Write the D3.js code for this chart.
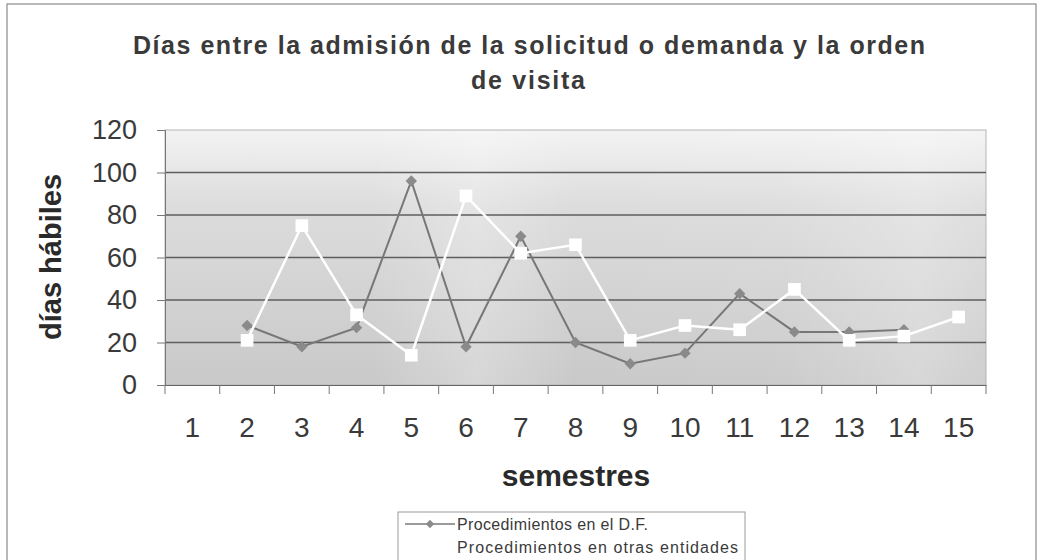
<!DOCTYPE html>
<html>
<head>
<meta charset="utf-8">
<script src="https://cdn.jsdelivr.net/npm/d3@7"></script>
<style>
  body { margin: 0; background: #fff; }
  text { font-family: "Liberation Sans", Arial, sans-serif; }
</style>
</head>
<body>
<svg width="1042" height="560"></svg>
<script>
// chart data
var semestres = [1, 2, 3, 4, 5, 6, 7, 8, 9, 10, 11, 12, 13, 14, 15]
var procDF = [null, 28, 18, 27, 96, 18, 70, 20, 10, 15, 43, 25, 25, 26, null]
var procOtras = [null, 21, 75, 33, 14, 89, 62, 66, 21, 28, 26, 45, 21, 23, 32]
var yTicks = [0, 20, 40, 60, 80, 100, 120]
var seriesNames = ['Procedimientos en el D.F.', 'Procedimientos en otras entidades']

var margin = { left: 165, right: 56, top: 130, bottom: 175 },
    width = 1042 - margin.left - margin.right,
    height = 560 - margin.top - margin.bottom;

var svg = d3.select('svg')

// outer frame
svg.append('rect')
    .attr('x', 7).attr('y', 4)
    .attr('width', 1029).attr('height', 570)
    .attr('fill', 'none')
    .attr('stroke', '#8a8a8a')
    .attr('stroke-width', 1.2)

var defs = svg.append('defs')
var gv = defs.append('linearGradient').attr('id', 'bgv')
    .attr('x1', 0).attr('y1', 0).attr('x2', 0).attr('y2', 1)
gv.append('stop').attr('offset', '0%').attr('stop-color', '#f3f3f3')
gv.append('stop').attr('offset', '30%').attr('stop-color', '#dcdcdc')
gv.append('stop').attr('offset', '100%').attr('stop-color', '#c9c9c9')

var gh = defs.append('linearGradient').attr('id', 'bgh')
gh.append('stop').attr('offset', '0%').attr('stop-color', '#fff').attr('stop-opacity', 0)
gh.append('stop').attr('offset', '25%').attr('stop-color', '#fff').attr('stop-opacity', 0.0)
gh.append('stop').attr('offset', '38%').attr('stop-color', '#fff').attr('stop-opacity', 0.25)
gh.append('stop').attr('offset', '50%').attr('stop-color', '#fff').attr('stop-opacity', 0.0)
gh.append('stop').attr('offset', '75%').attr('stop-color', '#fff').attr('stop-opacity', 0.05)
gh.append('stop').attr('offset', '92%').attr('stop-color', '#fff').attr('stop-opacity', 0.25)
gh.append('stop').attr('offset', '100%').attr('stop-color', '#fff').attr('stop-opacity', 0.1)

var chartGroup = svg.append('g')
    .attr('transform', 'translate(' + margin.left + ', ' + margin.top + ')')

var xScale = d3.scaleBand()
    .domain(semestres)
    .range([0, width])

var yScale = d3.scaleLinear()
    .domain([0, 120])
    .range([height, 0])

// plot background
chartGroup.append('rect')
    .attr('width', width).attr('height', height)
    .attr('fill', 'url(#bgv)')
chartGroup.append('rect')
    .attr('width', width).attr('height', height)
    .attr('fill', 'url(#bgh)')
chartGroup.append('rect')
    .attr('width', width).attr('height', height)
    .attr('fill', 'none')
    .attr('stroke', '#b5b5b5')

// gridlines
chartGroup.append('g')
    .selectAll('line')
    .data(yTicks.filter(d => d > 0 && d < 120))
    .join('line')
    .attr('x1', 0).attr('x2', width)
    .attr('y1', d => yScale(d)).attr('y2', d => yScale(d))
    .attr('stroke', '#5e5e5e')
    .attr('stroke-width', 1.4)

// y axis
var yAxis = d3.axisLeft(yScale).tickValues(yTicks).tickSize(8).tickPadding(20)
var yg = chartGroup.append('g').attr('class', 'y-axis').call(yAxis)
yg.select('.domain').attr('stroke', '#777')
yg.selectAll('.tick line').attr('stroke', '#777')
yg.selectAll('.tick text')
    .attr('font-size', 27)
    .attr('fill', '#3a3a3a')
    .style('font-family', '"Liberation Sans", Arial, sans-serif')

// x axis
var xAxis = d3.axisBottom(xScale).tickSize(0).tickPadding(32)
var xg = chartGroup.append('g').attr('class', 'x-axis')
    .attr('transform', 'translate(0,' + height + ')')
    .call(xAxis)
xg.select('.domain').attr('stroke', '#666').attr('stroke-width', 1.2)
xg.selectAll('.tick text')
    .attr('font-size', 28)
    .attr('fill', '#3a3a3a')
    .style('font-family', '"Liberation Sans", Arial, sans-serif')
// category separators
xg.append('g')
    .selectAll('line')
    .data(semestres.concat([null]))
    .join('line')
    .attr('x1', (d, i) => i * xScale.step()).attr('x2', (d, i) => i * xScale.step())
    .attr('y1', 0).attr('y2', 9)
    .attr('stroke', '#777')

var cx = d => xScale(d) + xScale.bandwidth() / 2

// series lines
function drawSeries(values, color, lineW, rot, mSize, mFill) {
    var pts = semestres.map((s, i) => ({ s: s, v: values[i] })).filter(d => d.v !== null)
    var line = d3.line().x(d => cx(d.s)).y(d => yScale(d.v))
    chartGroup.append('path')
        .datum(pts)
        .attr('d', line)
        .attr('fill', 'none')
        .attr('stroke', color)
        .attr('stroke-width', lineW)
    chartGroup.append('g')
        .selectAll('path')
        .data(pts)
        .join('path')
        .attr('transform', d => 'translate(' + cx(d.s) + ',' + yScale(d.v) + ') rotate(' + rot + ')')
        .attr('d', d3.symbol().type(d3.symbolSquare).size(mSize))
        .attr('fill', mFill)
}
drawSeries(procDF, '#777777', 2, 45, 64, '#8a8a8a')
drawSeries(procOtras, '#ffffff', 2.5, 0, 160, '#ffffff')

// titles
svg.append('text')
    .attr('x', 529).attr('y', 54)
    .attr('text-anchor', 'middle')
    .attr('font-size', 25).attr('font-weight', 'bold')
    .attr('fill', '#3a3a3a')
    .attr('textLength', 792).attr('lengthAdjust', 'spacing')
    .text('Días entre la admisión de la solicitud o demanda y la orden')
svg.append('text')
    .attr('x', 528).attr('y', 89)
    .attr('text-anchor', 'middle')
    .attr('font-size', 25).attr('font-weight', 'bold')
    .attr('fill', '#3a3a3a')
    .attr('textLength', 114).attr('lengthAdjust', 'spacing')
    .text('de visita')

svg.append('text')
    .attr('x', 576).attr('y', 486)
    .attr('text-anchor', 'middle')
    .attr('font-size', 30).attr('font-weight', 'bold')
    .attr('fill', '#2a2a2a')
    .text('semestres')

svg.append('text')
    .attr('transform', 'translate(61,257) rotate(-90)')
    .attr('text-anchor', 'middle')
    .attr('font-size', 29).attr('font-weight', 'bold')
    .attr('fill', '#2a2a2a')
    .text('días hábiles')

// legend
var legend = svg.append('g').attr('transform', 'translate(398,512)')
legend.append('rect')
    .attr('width', 347).attr('height', 60)
    .attr('fill', '#fff')
    .attr('stroke', '#9a9a9a')
var items = legend.selectAll('.item')
    .data(seriesNames)
    .join('g')
    .attr('class', 'item')
    .attr('transform', (d, i) => 'translate(0,' + (12 + i * 23) + ')')
items.append('line')
    .attr('x1', 7).attr('x2', 57)
    .attr('stroke', (d, i) => i == 0 ? '#7a7a7a' : '#fff')
    .attr('stroke-width', 1.5)
items.append('path')
    .attr('transform', (d, i) => 'translate(32,0) rotate(' + (i == 0 ? 45 : 0) + ')')
    .attr('d', d3.symbol().type(d3.symbolSquare).size(36))
    .attr('fill', (d, i) => i == 0 ? '#8c8c8c' : '#fff')
items.append('text')
    .attr('x', 59).attr('y', 6)
    .attr('font-size', 16)
    .attr('fill', '#3a3a3a')
    .attr('textLength', (d, i) => i == 0 ? 191 : 281)
    .attr('lengthAdjust', 'spacing')
    .text(d => d)
</script>
</body>
</html>
